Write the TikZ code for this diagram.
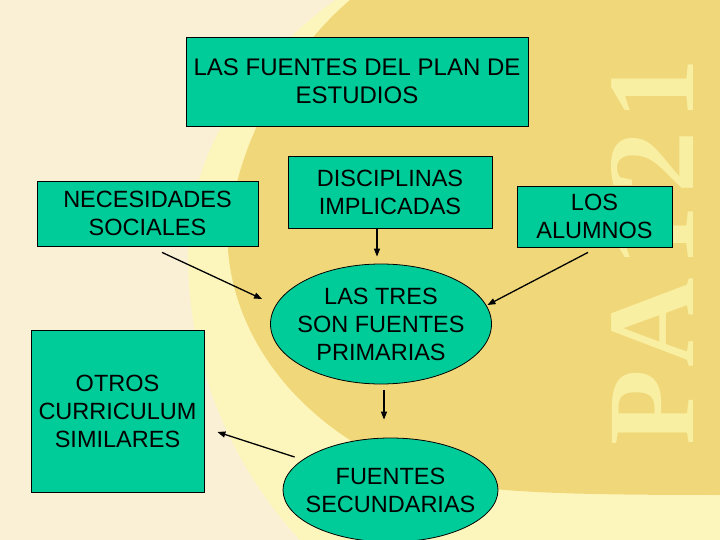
\documentclass[tikz,border=0pt]{standalone}
\usepackage{fontspec}
\setmainfont{Liberation Sans}
\newfontfamily\wmfont[LetterSpace=9]{Liberation Serif}
\usepackage{tikz}
\usetikzlibrary{positioning,arrows.meta,calc,shapes.geometric}
\definecolor{cream}{HTML}{FAF0D6}
\definecolor{paleband}{HTML}{FDF6BC}
\definecolor{goldzone}{HTML}{F0D77A}
\definecolor{wmark}{HTML}{F9EFA2}
\definecolor{seagreen}{HTML}{00CC99}

\begin{document}
\begin{tikzpicture}[x=1pt,y=-1pt,
    box/.style={draw=black, line width=0.8pt, fill=seagreen, align=center,
        inner sep=0pt, font=\fontsize{23.5}{28}\selectfont},
    oval/.style={box, ellipse, inner sep=-10pt},
    arr/.style={-{Triangle[length=8pt,width=6pt]}, line width=1.3pt}]
    %
    \useasboundingbox (0,0) rectangle (720,540);
    \fill[cream] (0,0) rectangle (720,540);
    \fill[paleband] (335,0) .. controls (240,70) and (188,160) .. (188,255)
        .. controls (188,370) and (235,470) .. (300,540) -- (720,540) -- (720,0) -- cycle;
    \fill[goldzone] (350,0) .. controls (280,60) and (228,160) .. (228,250)
        .. controls (235,340) and (300,430) .. (420,475)
        .. controls (470,492) and (550,495) .. (720,495) -- (720,0) -- cycle;
    \node[rotate=90, anchor=base, inner sep=0pt, text=wmark,
        font=\wmfont\bfseries\fontsize{124}{124}\selectfont] (wm) at (693,252) {PA121};

    %
    \node[box, minimum width=342, minimum height=89, font=\fontsize{24}{28}\selectfont] (plan) at (357,81.5) {LAS FUENTES DEL PLAN DE\\ESTUDIOS};
    \node[box, minimum width=221, minimum height=65] (neces) at (147.5,213.5) {NECESIDADES\\SOCIALES};
    \node[box, minimum width=204, minimum height=72] (discip) at (390,192) {DISCIPLINAS\\IMPLICADAS};
    \node[box, minimum width=155, minimum height=61] (alumnos) at (594.5,216.5) {LOS\\ALUMNOS};
    \node[box, minimum width=173, minimum height=162] (otros) at (117.5,411) {OTROS\\CURRICULUM\\SIMILARES};

    %
    \node[oval, minimum width=221, minimum height=120] (prim) at (381,324) {LAS TRES\\SON FUENTES\\PRIMARIAS};
    \node[oval, minimum width=215, minimum height=104] (secun) at (390.5,490) {FUENTES\\SECUNDARIAS};

    %
    \draw[arr] ($(neces.south)+(14.5,6)$) -- ($(prim.west)+(-8,-25)$);
    \draw[arr] ($(discip.south)+(-13,0)$) -- ($(prim.north)+(-4,-7)$);
    \draw[arr] ($(alumnos.south)+(-6.5,5)$) -- ($(prim.east)+(-4.5,-19)$);
    \draw[arr] ($(prim.south)+(3,6)$) -- ($(secun.north)+(-6.5,-18)$);
    \draw[arr] ($(secun.west)+(12,-33)$) -- ($(otros.east)+(13,21)$);
\end{tikzpicture}
\end{document}
